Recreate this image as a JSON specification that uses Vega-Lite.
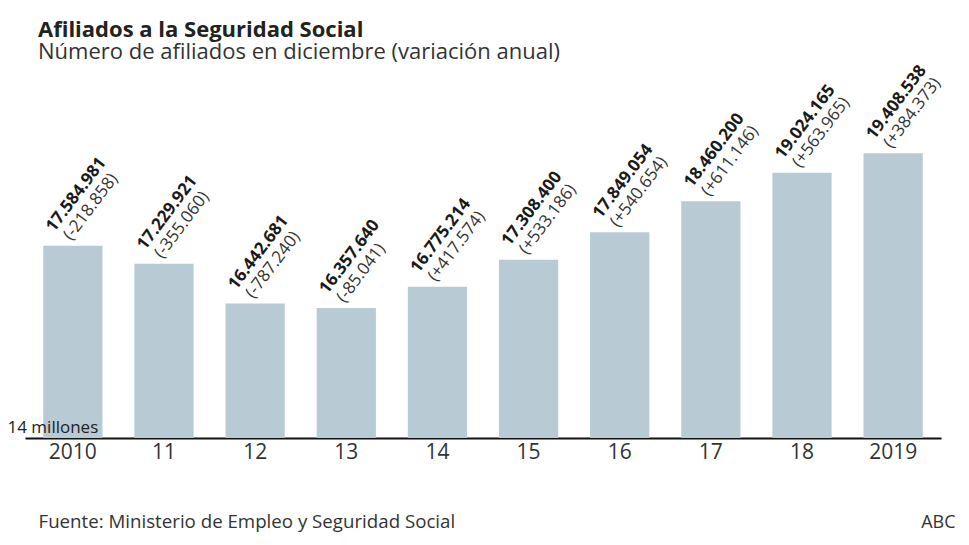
{
  "$schema": "https://vega.github.io/schema/vega-lite/v6.json",
  "autosize": "none",
  "width": 916,
  "height": 378,
  "padding": {"left": 25, "top": 60, "right": 28, "bottom": 107},
  "background": "white",
  "title": {
    "text": "Afiliados a la Seguridad Social",
    "subtitle": "Número de afiliados en diciembre (variación anual)",
    "anchor": "start",
    "frame": "group",
    "dx": 13,
    "offset": -4,
    "font": "Open Sans",
    "fontSize": 22,
    "fontWeight": "bold",
    "color": "#222222",
    "subtitleFont": "Open Sans",
    "subtitleFontSize": 22,
    "subtitleColor": "#333333",
    "subtitlePadding": 0
  },
  "data": {
    "values": [
      {"year": "2010", "value": 17584981, "label": "17.584.981", "change": "(-218.858)"},
      {"year": "2011", "value": 17229921, "label": "17.229.921", "change": "(-355.060)"},
      {"year": "2012", "value": 16442681, "label": "16.442.681", "change": "(-787.240)"},
      {"year": "2013", "value": 16357640, "label": "16.357.640", "change": "(-85.041)"},
      {"year": "2014", "value": 16775214, "label": "16.775.214", "change": "(+417.574)"},
      {"year": "2015", "value": 17308400, "label": "17.308.400", "change": "(+533.186)"},
      {"year": "2016", "value": 17849054, "label": "17.849.054", "change": "(+540.654)"},
      {"year": "2017", "value": 18460200, "label": "18.460.200", "change": "(+611.146)"},
      {"year": "2018", "value": 19024165, "label": "19.024.165", "change": "(+563.965)"},
      {"year": "2019", "value": 19408538, "label": "19.408.538", "change": "(+384.373)"}
    ]
  },
  "encoding": {
    "x": {
      "field": "year",
      "type": "nominal",
      "sort": null,
      "scale": {"paddingInner": 0.35, "paddingOuter": 0.2},
      "axis": {
        "title": "Fuente: Ministerio de Empleo y Seguridad Social",
        "titleX": 13,
        "titleY": 89,
        "titleAlign": "left",
        "titleAnchor": "start",
        "titleBaseline": "alphabetic",
        "titleFont": "Open Sans",
        "titleFontSize": 18.7,
        "titleFontWeight": "normal",
        "titleColor": "#333333",
        "labelAngle": 0,
        "labelExpr": "datum.value == '2010' || datum.value == '2019' ? datum.value : substring(datum.value, 2)",
        "labelFont": "Open Sans",
        "labelFontSize": 21,
        "labelColor": "#333333",
        "labelPadding": 3,
        "ticks": false,
        "domainColor": "#111111",
        "domainWidth": 2
      }
    }
  },
  "layer": [
    {
      "mark": {"type": "bar", "color": "#b8cad4"},
      "encoding": {
        "y": {
          "field": "value",
          "type": "quantitative",
          "scale": {"domain": [13790000, 21250000], "zero": false, "nice": false},
          "axis": {
            "values": [13790000],
            "labelExpr": "'14 millones'",
            "labelAlign": "left",
            "labelBaseline": "alphabetic",
            "labelPadding": 18,
            "labelOffset": -6,
            "labelFont": "Open Sans",
            "labelFontSize": 17,
            "labelColor": "#222222",
            "ticks": false,
            "tickSize": 0,
            "domain": false,
            "grid": false,
            "zindex": 1,
            "title": "ABC",
            "titleAngle": 0,
            "titleX": 930,
            "titleY": 467,
            "titleAlign": "right",
            "titleBaseline": "alphabetic",
            "titleFont": "Open Sans",
            "titleFontSize": 18,
            "titleFontWeight": "normal",
            "titleColor": "#333333"
          }
        },
        "y2": {"datum": 13790000}
      }
    },
    {
      "mark": {"type": "text", "angle": 307, "align": "left", "baseline": "alphabetic", "dx": -1, "dy": -23, "font": "Open Sans", "fontSize": 17, "fontWeight": "bold", "color": "#1a1a1a"},
      "encoding": {
        "y": {"field": "value", "type": "quantitative"},
        "text": {"field": "label"}
      }
    },
    {
      "mark": {"type": "text", "angle": 307, "align": "left", "baseline": "alphabetic", "dx": 2.5, "dy": -4, "font": "Open Sans", "fontSize": 17, "color": "#333333"},
      "encoding": {
        "y": {"field": "value", "type": "quantitative"},
        "text": {"field": "change"}
      }
    }
  ],
  "config": {"view": {"stroke": null}}
}
